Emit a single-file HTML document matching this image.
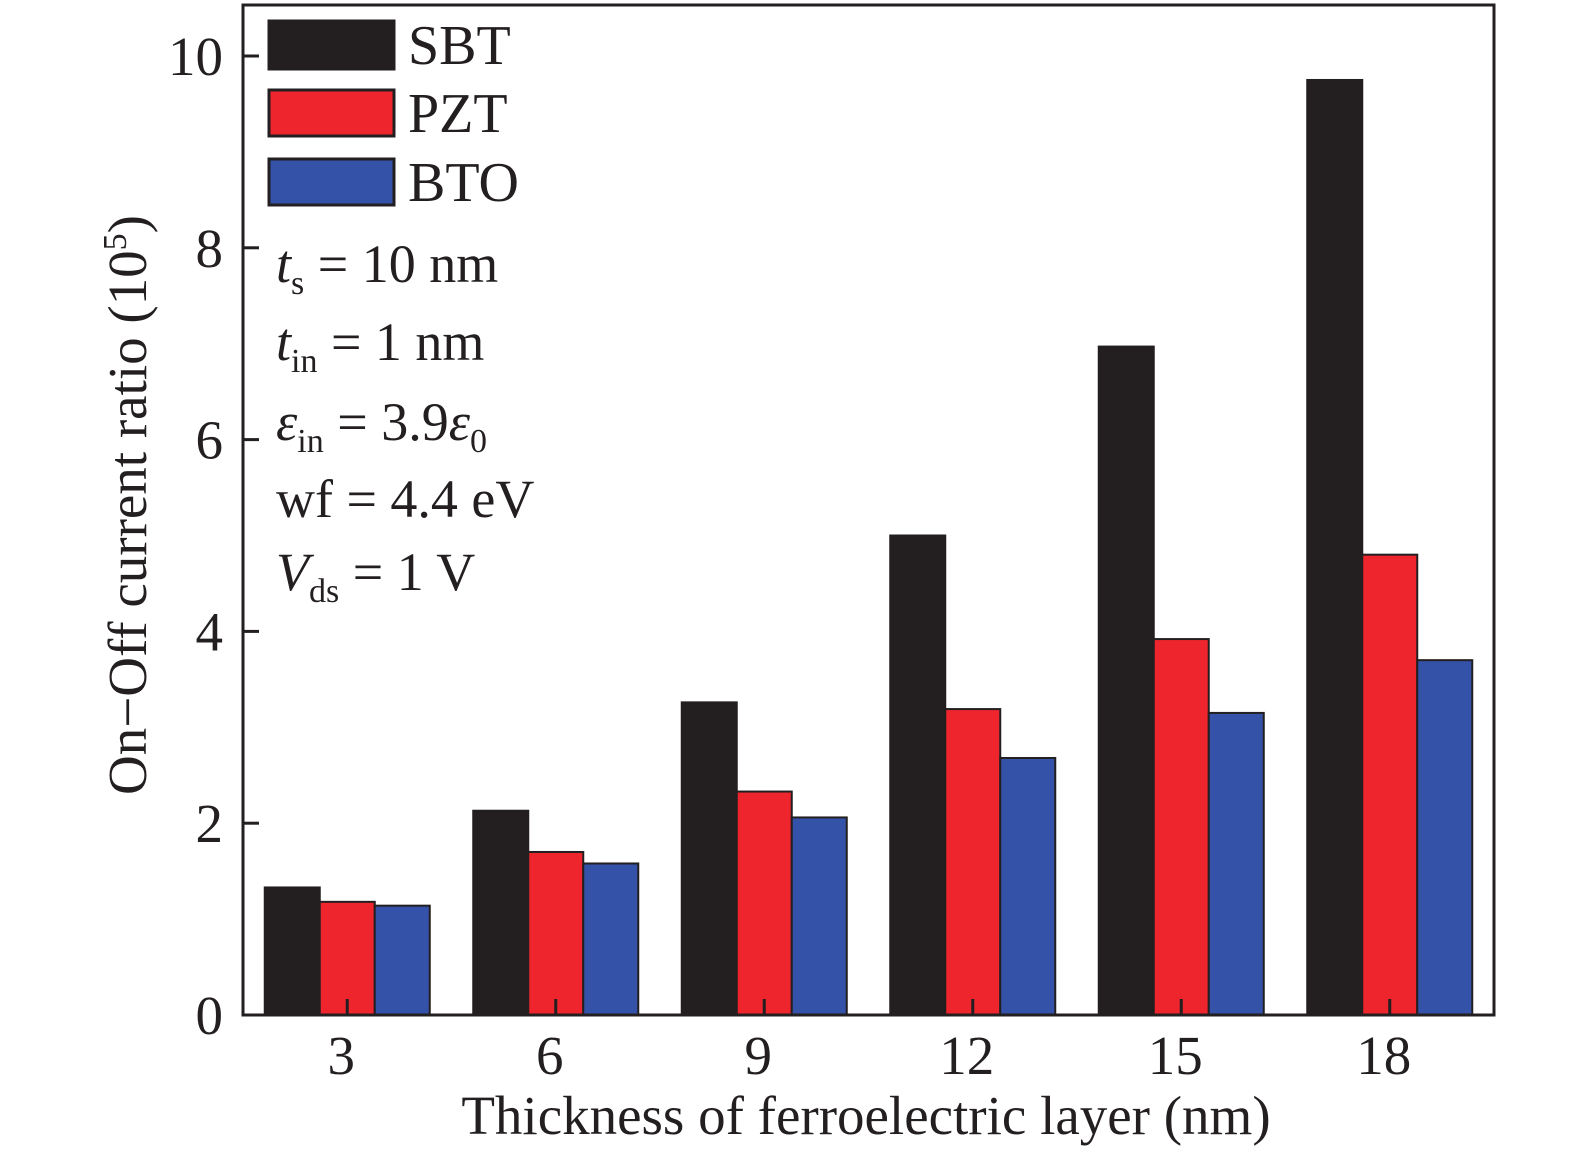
<!DOCTYPE html>
<html><head><meta charset="utf-8"><style>
html,body{margin:0;padding:0;background:#fff;}
svg{display:block;font-family:"Liberation Serif",serif;}
</style></head><body>
<svg id="chart" width="1575" height="1161" viewBox="0 0 1575 1161">
<g id="bars"></g>
<rect x="243" y="5" width="1251" height="1010" fill="none" stroke="#231f20" stroke-width="3"/>
<g id="axes"></g>
<g>
<rect x="269" y="21" width="125" height="48" fill="#231f20" stroke="#231f20" stroke-width="3"/>
<text x="408" y="64" font-size="56" fill="#231f20">SBT</text>
<rect x="269" y="90" width="125" height="46" fill="#ee252d" stroke="#231f20" stroke-width="3"/>
<text x="408" y="132" font-size="56" fill="#231f20">PZT</text>
<rect x="269" y="159" width="125" height="46" fill="#3452a8" stroke="#231f20" stroke-width="3"/>
<text x="408" y="201" font-size="56" fill="#231f20">BTO</text>
</g>
<g font-size="54" fill="#231f20">
<text x="276" y="282"><tspan font-style="italic">t</tspan><tspan font-size="34" dy="12">s</tspan><tspan dy="-12"> = 10 nm</tspan></text>
<text x="276" y="360"><tspan font-style="italic">t</tspan><tspan font-size="34" dy="12">in</tspan><tspan dy="-12"> = 1 nm</tspan></text>
<text x="276" y="440"><tspan font-style="italic">ε</tspan><tspan font-size="34" dy="12">in</tspan><tspan dy="-12"> = 3.9</tspan><tspan font-style="italic">ε</tspan><tspan font-size="34" dy="12">0</tspan></text>
<text x="276" y="517">wf = 4.4 eV</text>
<text x="276" y="590"><tspan font-style="italic">V</tspan><tspan font-size="34" dy="12">ds</tspan><tspan dy="-12"> = 1 V</tspan></text>
</g>
<text transform="translate(146,505) rotate(-90)" text-anchor="middle" font-size="55" fill="#231f20">On−Off current ratio (10<tspan font-size="34" dy="-20">5</tspan><tspan dy="20">)</tspan></text>
<text x="866" y="1134" text-anchor="middle" font-size="55" fill="#231f20">Thickness of ferroelectric layer (nm)</text>
</svg>
<script>
const categories = [3, 6, 9, 12, 15, 18];
const sbtValues = [1.33, 2.13, 3.26, 5.0, 6.97, 9.75];
const pztValues = [1.18, 1.70, 2.33, 3.19, 3.92, 4.80];
const btoValues = [1.14, 1.58, 2.06, 2.68, 3.15, 3.70];
const yTicks = [0, 2, 4, 6, 8, 10];
const xTicks = [3, 6, 9, 12, 15, 18];

const NS = "http://www.w3.org/2000/svg";
const X0 = 243, X1 = 1494, Y0 = 1015, Y1 = 56;
const xScale = v => X0 + (v - 1.5) / 18 * (X1 - X0);
const yScale = v => Y0 - v / 10 * (Y0 - Y1);
const barW = 55;
const series = [
  {name: "sbt", vals: sbtValues, color: "#231f20", off: -1},
  {name: "pzt", vals: pztValues, color: "#ee252d", off: 0},
  {name: "bto", vals: btoValues, color: "#3452a8", off: 1}
];
const barsG = document.getElementById("bars");
series.forEach(s => {
  s.vals.forEach((v, i) => {
    const cx = xScale(categories[i]) + s.off * barW;
    const r = document.createElementNS(NS, "rect");
    r.setAttribute("x", cx - barW / 2);
    r.setAttribute("y", yScale(v));
    r.setAttribute("width", barW);
    r.setAttribute("height", Y0 - yScale(v));
    r.setAttribute("fill", s.color);
    r.setAttribute("stroke", "#231f20");
    r.setAttribute("stroke-width", "2");
    
    
    barsG.appendChild(r);
  });
});
const axG = document.getElementById("axes");
yTicks.forEach(t => {
  const y = yScale(t);
  const l = document.createElementNS(NS, "line");
  l.setAttribute("x1", X0); l.setAttribute("x2", X0 + 16);
  l.setAttribute("y1", y); l.setAttribute("y2", y);
  l.setAttribute("stroke", "#231f20"); l.setAttribute("stroke-width", "3");
  
  
  axG.appendChild(l);
  const tx = document.createElementNS(NS, "text");
  tx.setAttribute("x", X0 - 20); tx.setAttribute("y", y + 19);
  tx.setAttribute("text-anchor", "end"); tx.setAttribute("font-size", "55");
  tx.setAttribute("fill", "#231f20");
  tx.textContent = t;
  
  
  axG.appendChild(tx);
});
xTicks.forEach(t => {
  const x = xScale(t);
  const l = document.createElementNS(NS, "line");
  l.setAttribute("x1", x); l.setAttribute("x2", x);
  l.setAttribute("y1", Y0); l.setAttribute("y2", Y0 - 16);
  l.setAttribute("stroke", "#231f20"); l.setAttribute("stroke-width", "3");
  
  
  axG.appendChild(l);
  const tx = document.createElementNS(NS, "text");
  tx.setAttribute("x", x - 6); tx.setAttribute("y", 1074);
  tx.setAttribute("text-anchor", "middle"); tx.setAttribute("font-size", "55");
  tx.setAttribute("fill", "#231f20");
  tx.textContent = t;
  
  
  axG.appendChild(tx);
});
</script>
</body></html>
